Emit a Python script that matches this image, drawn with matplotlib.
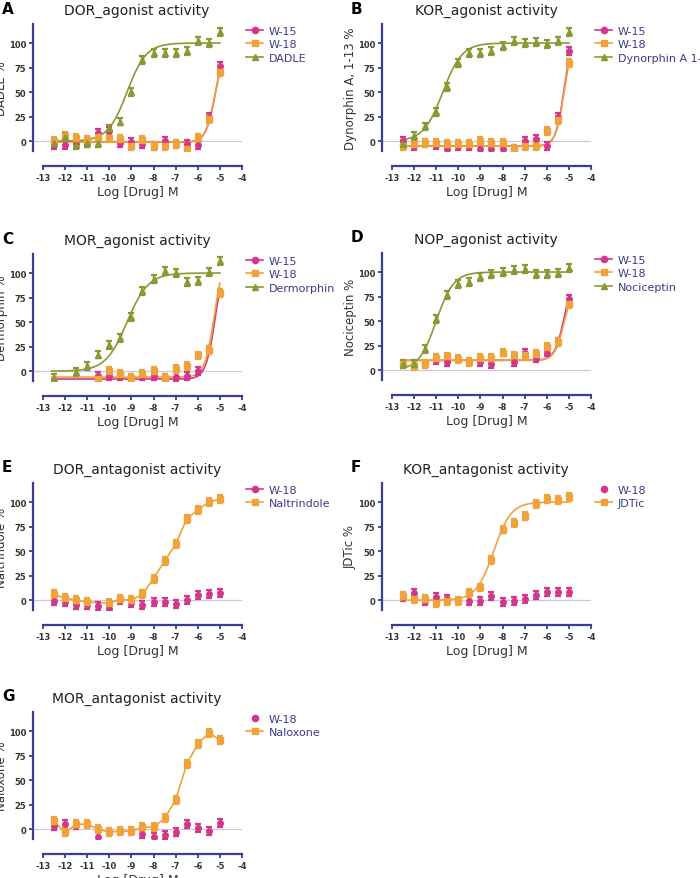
import numpy as np
import matplotlib
matplotlib.use("Agg")
import matplotlib.pyplot as plt
from matplotlib.lines import Line2D

plt.rcParams["axes.unicode_minus"] = False
nan = np.nan
x_log = [-12.5, -12, -11.5, -11, -10.5, -10, -9.5, -9, -8.5, -8, -7.5, -7, -6.5, -6, -5.5, -5]

# Panel A
A_w15 = [-4, -4, -3, -2, 8, 10, -2, -1, -3, -5, 0, -3, -3, -4, 25, 77]
A_w18 = [0, 5, 3, 1, 4, 3, 2, -5, 1, -5, -5, -3, -8, 3, 23, 70]
A_dadle = [-2, 4, -4, -2, -2, 13, 20, 50, 83, 90, 90, 90, 92, 102, 100, 111]
# Panel B
B_w15 = [0, -5, -2, -4, -8, -5, -5, -8, -8, -8, -8, 0, 2, -5, 25, 92]
B_w18 = [-5, -3, -2, -2, -3, -3, -3, 0, -2, -2, -8, -5, -5, 10, 22, 80]
B_dyn = [-3, 5, 15, 30, 55, 80, 90, 90, 92, 97, 102, 100, 101, 99, 102, 111]
# Panel C
C_w15 = [nan, nan, nan, nan, -5, -5, -5, -7, -5, -5, -7, -6, -5, 0, 22, 80]
C_w18 = [nan, nan, nan, nan, -8, 0, -3, -7, -3, 0, -7, 2, 5, 16, 22, 80]
C_derm = [-7, nan, -1, 5, 17, 27, 34, 55, 82, 94, 102, 100, 91, 92, 101, 112]
# Panel D
D_w15 = [nan, nan, nan, 10, 8, nan, nan, 8, 6, nan, 8, 18, 12, 18, 29, 73]
D_w18 = [6, 4, 6, 12, 14, 11, 8, 12, 12, 18, 15, 15, 17, 24, 29, 67]
D_noc = [6, 6, 22, 52, 77, 88, 90, 95, 98, 100, 102, 103, 98, 98, 99, 104]
# Panel E
E_w18 = [-1, -2, -5, -5, -6, -9, 0, -3, -5, -2, -2, -4, 0, 5, 6, 7]
E_nal = [6, 2, 0, -2, nan, -3, 1, 0, 6, 22, 40, 57, 83, 92, 100, 103]
# Panel F
F_w18 = [3, 7, -1, 3, 1, nan, -1, -1, 4, -2, -1, 1, 5, 8, 8, 8]
F_jdt = [4, 1, 1, -3, -1, -1, 7, 13, 41, 72, 79, 86, 98, 103, 102, 105]
# Panel G
G_w18 = [3, 5, 4, nan, -8, nan, nan, nan, -5, -8, -6, -3, 5, 1, -2, 6]
G_nal = [8, -3, 5, 5, 0, -3, -2, -2, 2, 2, 11, 30, 66, 87, 98, 91]

# 4-parameter logistic fit parameters: bottom, top, logEC50, hill
A_fit = {"W-15": (-1, 100, -5.2, 2.0), "W-18": (-1, 100, -5.2, 2.0), "DADLE": (0, 100, -9.2, 1.0)}
B_fit = {"W-15": (-5, 115, -5.2, 2.2), "W-18": (-5, 110, -5.2, 2.2), "Dynorphin A 1-13": (0, 100, -10.7, 1.0)}
C_fit = {"W-15": (-8, 120, -5.2, 2.0), "W-18": (-6, 120, -5.25, 2.0), "Dermorphin": (0, 100, -9.2, 0.9)}
D_fit = {"W-15": (10, 100, -5.2, 2.0), "W-18": (10, 90, -5.2, 2.0), "Nociceptin": (0, 100, -11.0, 1.1)}
F_fit = {"JDTic": (0, 100, -8.4, 1.1)}

PINK = "#d2378c"
ORANGE = "#f0a33a"
OLIVE = "#8a9a32"
NAVY = "#3a3f93"
LEGTXT = "#3b3b8e"

fig = plt.figure(figsize=(7, 8.79), dpi=100)
W, H = 700, 879

def make_ax(col, row_off):
    xo = 0 if col == 0 else 349
    left = 33 + xo
    right = 242 + xo
    top = 25 + row_off
    bot = 152 + row_off
    ax = fig.add_axes([left / W, 1 - bot / H, (right - left) / W, (bot - top) / H])
    ax.set_xlim(-13.45, -4)
    ax.set_ylim(-10, 119.4)
    for s in ["top", "right"]:
        ax.spines[s].set_visible(False)
    ax.spines["bottom"].set_position(("outward", 11))
    ax.spines["bottom"].set_bounds(-13, -4)
    for s in ["left", "bottom"]:
        ax.spines[s].set_color(NAVY)
        ax.spines[s].set_linewidth(1.6)
    ax.set_xticks(range(-13, -3))
    ax.set_yticks([0, 25, 50, 75, 100])
    ax.tick_params(colors=NAVY, width=1.3, length=3, pad=2, labelsize=6, labelcolor="#333333")
    for t in ax.get_xticklabels() + ax.get_yticklabels():
        t.set_fontweight("bold")
    ax.axhline(0, color="#c9c9e6", lw=0.9, zorder=0)
    ax.set_xlabel("Log [Drug] M", fontsize=9, color="#333333", labelpad=2)
    return ax, xo, row_off

def logistic(p, xs):
    b, t, ec, h = p
    return b + (t - b) / (1 + 10 ** ((ec - xs) * h))

markers = {PINK: "o", ORANGE: "s", OLIVE: "^"}

def plot_series(ax, y, color, fit=None, connect=False, label=None, legline=True):
    x = np.array(x_log); y = np.array(y, dtype=float)
    err = np.full_like(y, 4.0)
    m = ~np.isnan(y)
    ax.errorbar(x[m], y[m], yerr=err[m], fmt=markers[color], color=color, ms=4,
                capsize=2.5, capthick=1.6, elinewidth=1.6, zorder=3)
    if fit is not None:
        xs = np.linspace(-12.6, -5, 300)
        ax.plot(xs, logistic(fit, xs), color=color, lw=1.2, zorder=2)
    if connect:
        ax.plot(x[m], y[m], color=color, lw=1.2, zorder=2)
    return Line2D([], [], color=color, marker=markers[color], ms=4.5,
                  lw=1.2 if legline else 0, label=label)

def finish(ax, handles, title, letter, xo, row_off, ylabel):
    ax.set_ylabel(ylabel, fontsize=8.5, color="#333333")
    ax.yaxis.set_label_coords(-0.12, 0.5)
    fig.text((xo + 137) / W, 1 - (row_off + 11) / H, title, fontsize=10, ha="center", va="center", color="#222222")
    fig.text((xo + 2) / W, 1 - (row_off + 9) / H, letter, fontsize=11, fontweight="bold", ha="left", va="center")
    leg = ax.legend(handles=handles, loc="upper left", bbox_to_anchor=(1.0, 1.02), frameon=False,
                    fontsize=8, handlelength=1.5, labelspacing=0.3, handletextpad=0.5, borderaxespad=0)
    for t in leg.get_texts():
        t.set_color(LEGTXT)

# A
ax, xo, ro = make_ax(0, 0)
h = [plot_series(ax, A_w15, PINK, A_fit["W-15"], label="W-15"),
     plot_series(ax, A_w18, ORANGE, A_fit["W-18"], label="W-18"),
     plot_series(ax, A_dadle, OLIVE, A_fit["DADLE"], label="DADLE")]
finish(ax, h, "DOR_agonist activity", "A", xo, ro, "DADLE %")
# B
ax, xo, ro = make_ax(1, 0)
h = [plot_series(ax, B_w15, PINK, B_fit["W-15"], label="W-15"),
     plot_series(ax, B_w18, ORANGE, B_fit["W-18"], label="W-18"),
     plot_series(ax, B_dyn, OLIVE, B_fit["Dynorphin A 1-13"], label="Dynorphin A 1-13")]
finish(ax, h, "KOR_agonist activity", "B", xo, ro, "Dynorphin A, 1-13 %")
# C
ax, xo, ro = make_ax(0, 230)
h = [plot_series(ax, C_w15, PINK, C_fit["W-15"], label="W-15"),
     plot_series(ax, C_w18, ORANGE, C_fit["W-18"], label="W-18"),
     plot_series(ax, C_derm, OLIVE, C_fit["Dermorphin"], label="Dermorphin")]
finish(ax, h, "MOR_agonist activity", "C", xo, ro, "Dermorphin %")
# D
ax, xo, ro = make_ax(1, 229)
h = [plot_series(ax, D_w15, PINK, D_fit["W-15"], label="W-15"),
     plot_series(ax, D_w18, ORANGE, D_fit["W-18"], label="W-18"),
     plot_series(ax, D_noc, OLIVE, D_fit["Nociceptin"], label="Nociceptin")]
finish(ax, h, "NOP_agonist activity", "D", xo, ro, "Nociceptin %")
# E
ax, xo, ro = make_ax(0, 459)
h = [plot_series(ax, E_w18, PINK, label="W-18"),
     plot_series(ax, E_nal, ORANGE, connect=True, label="Naltrindole")]
finish(ax, h, "DOR_antagonist activity", "E", xo, ro, "Naltrindole %")
# F
ax, xo, ro = make_ax(1, 459)
h = [plot_series(ax, F_w18, PINK, label="W-18", legline=False),
     plot_series(ax, F_jdt, ORANGE, F_fit["JDTic"], label="JDTic")]
finish(ax, h, "KOR_antagonist activity", "F", xo, ro, "JDTic %")
# G
ax, xo, ro = make_ax(0, 688)
h = [plot_series(ax, G_w18, PINK, label="W-18", legline=False),
     plot_series(ax, G_nal, ORANGE, connect=True, label="Naloxone")]
finish(ax, h, "MOR_antagonist activity", "G", xo, ro, "Naloxone %")

fig.savefig("out.png", dpi=100)
